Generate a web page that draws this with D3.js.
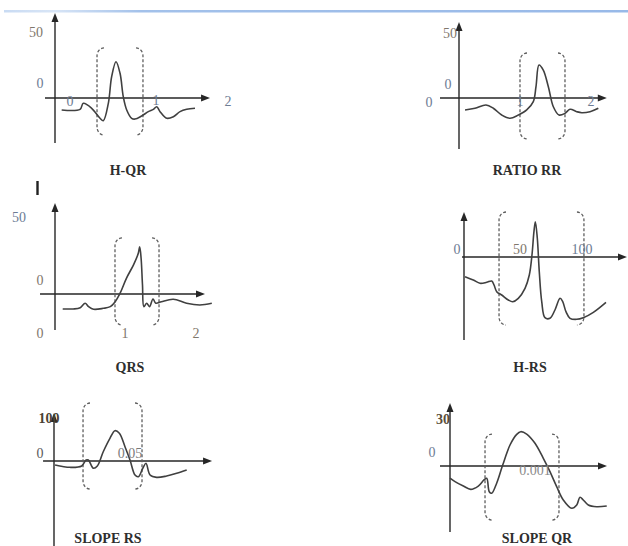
<!DOCTYPE html>
<html>
<head>
<meta charset="utf-8">
<script src="https://cdn.jsdelivr.net/npm/d3@7"></script>
<style>
  html, body { margin: 0; padding: 0; background: #fff; }
  svg { display: block; }
</style>
</head>
<body>
<svg id="fig" width="628" height="546"></svg>
<script>
// ---- Feature waveforms (time, amplitude) ----------------------------------

// H-QR: time in s, amplitude
const hqrT = [0.066, 0.248, 0.280, 0.363, 0.446, 0.478, 0.528, 0.561, 0.604, 0.644, 0.676, 0.710, 0.759, 0.792, 0.858, 0.924, 0.974, 1.007, 1.040, 1.106, 1.172, 1.238, 1.304, 1.386];
const hqrV = [-9.2, -8.7, -4.1, -7.9, -15.6, -17.5, -4.1, 16.4, 27.9, 19.0, 1.0, -9.2, -15.6, -16.2, -13.8, -10.5, -8.7, -6.7, -10.5, -15.6, -14.4, -10.5, -8.7, -7.9];
const hqrWindow = [0.416, 0.871];
const hqrWindowV = [38.5, -28.5];

// RATIO RR
const rrT = [0.094, 0.25, 0.422, 0.536, 0.667, 0.797, 0.927, 1.058, 1.161, 1.203, 1.25, 1.317, 1.396, 1.474, 1.563, 1.656, 1.734, 1.839, 1.917, 2.047, 2.177];
const rrV = [-9.2, -7.9, -5.4, -7.9, -13.1, -15.6, -13.1, -9.2, -2.8, 8.7, 25.4, 21.5, 8.7, -6.7, -13.1, -11.8, -8.7, -10.5, -11.3, -10.5, -7.9];
const rrWindow = [0.953, 1.656];
const rrWindowV = [34.6, -31.5];

// QRS
const qrsT = [0.11, 0.26, 0.36, 0.43, 0.48, 0.55, 0.69, 0.79, 0.86, 0.93, 1.02, 1.12, 1.19, 1.21, 1.23, 1.25, 1.27, 1.31, 1.35, 1.40, 1.44, 1.52, 1.69, 1.88, 2.07, 2.24];
const qrsV = [-9.7, -9.7, -8.9, -6.0, -8.2, -9.9, -9.3, -8.2, -5.0, 0.5, 10.2, 18.8, 26.4, 30.7, 23.2, 5.8, -8.2, -6.0, -8.2, -3.2, -6.0, -5.0, -3.4, -6.0, -7.1, -6.0];
const qrsWindow = [0.857, 1.486];
const qrsWindowV = [36.4, -20.1];

// H-RS
const hrsT = [0.9, 8.0, 13.8, 19.6, 23.9, 25.9, 28.2, 32.5, 38.2, 42.0, 46.8, 52.6, 56.3, 58.6, 60.3, 61.5, 63.2, 64.9, 67.0, 69.8, 74.1, 78.4, 82.8, 85.1, 87.9, 91.4, 97.2, 102.8, 111.5, 122.4];
const hrsV = [-19.7, -23, -26.3, -25.3, -24, -28, -34.7, -38, -43, -44.7, -41.3, -31.3, -18, 2, 25.3, 35.3, 18.7, -14.7, -44.7, -60.7, -61.3, -53, -41.3, -44.7, -54.7, -61.3, -62.3, -60.7, -55.3, -45.3];
const hrsWindow = [30.2, 103.4];
const hrsWindowV = [45, -68];

// SLOPE RS
const slopeRsT = [0.0007, 0.0105, 0.0182, 0.0211, 0.0226, 0.0259, 0.0285, 0.0324, 0.0368, 0.0401, 0.0430, 0.0467, 0.0500, 0.0533, 0.0555, 0.0584, 0.0605, 0.0632, 0.0675, 0.0741, 0.0807, 0.0873];
const slopeRsV = [-9.3, -14.7, -11.6, 2.3, 2.3, -16.9, -11.6, 21.6, 52.8, 70.5, 64.4, 33.3, 2.3, -32.6, -36.5, -16.9, -5.3, -32.6, -38.0, -34.9, -28.6, -20.9];
const slopeRsWindow = [0.0191, 0.0579];
const slopeRsWindowV = [134.9, -65.1];

// SLOPE QR: times listed in milliseconds
const slopeQrMs = [0, 0.059, 0.157, 0.244, 0.333, 0.4, 0.432, 0.462, 0.491, 0.549, 0.62, 0.706, 0.785, 0.832, 0.902, 1.0, 1.098, 1.176, 1.255, 1.333, 1.432, 1.491, 1.529, 1.568, 1.627, 1.726, 1.844];
const slopeQrV = [-7.8, -10.0, -12.8, -14.9, -12.8, -8.9, -7.8, -16.4, -17.4, -11.0, 0.6, 13.4, 20.2, 21.9, 20.4, 14.5, 4.9, -3.6, -13.2, -21.7, -27.0, -24.9, -20.0, -21.7, -24.9, -26.0, -25.5];
const slopeQrT = slopeQrMs.map(ms => ms / 1000);
const slopeQrWindow = [0.000412, 0.001282];
const slopeQrWindowV = [20.4, -34.5];

// ---- Tick labels -----------------------------------------------------------
const hqrTicks   = ["50", "0", "0", "1", "2"];
const rrTicks    = ["50", "0", "0", "1", "2"];
const qrsTicks   = ["50", "0", "0", "1", "2"];
const hrsTicks   = ["0", "50", "100"];
const slopeRsTicks = ["100", "0", "0.05"];
const slopeQrTicks = ["30", "0", "0.001"];

const titles = ["H-QR", "RATIO RR", "QRS", "H-RS", "SLOPE RS", "SLOPE QR"];

// ---- Panel layout ----------------------------------------------------------
// Each scale is fixed by two reference values and their pixel positions.
const panels = [
  {
    title: titles[0], t: hqrT, v: hqrV, win: hqrWindow, winV: hqrWindowV,
    xRef: [[0, 1], [55, 156]], yRef: [[0, 50], [98, 33]],
    xExt: [-0.099, 1.535], yExt: [-34.6, 65.4],
    titleAt: [128, 175],
    ticks: [
      { at: [0, 50], dx: -19, dy: 4 },
      { at: [0, 0], dx: -15, dy: -10 },
      { at: [0, 0], dx: 15, dy: 8 },
      { at: [1, 0], dx: 0, dy: 7 },
      { at: [2, 0], dx: -29, dy: 8 }
    ].map((p, i) => ({ ...p, text: hqrTicks[i] })),
    tickColors: ["#7f776c", "#6d7c94", "#6d7c94", "#6d7c94", "#6d7c94"]
  },
  {
    title: titles[1], t: rrT, v: rrV, win: rrWindow, winV: rrWindowV,
    xRef: [[0, 1], [459, 523]], yRef: [[0, 50], [98, 33]],
    xExt: [-0.297, 2.31], yExt: [-39.2, 58.5],
    titleAt: [527, 175],
    ticks: [
      { at: [0, 50], dx: -9, dy: 5 },
      { at: [0, 0], dx: -11, dy: -9 },
      { at: [0, 0], dx: -30, dy: 9 },
      { at: [1, 0], dx: -3, dy: 8 },
      { at: [2, 0], dx: 4, dy: 8 }
    ].map((p, i) => ({ ...p, text: rrTicks[i] })),
    tickColors: ["#7f776c", "#6d7c94", "#6d7c94", "#6d7c94", "#6d7c94"]
  },
  {
    title: titles[2], t: qrsT, v: qrsV, win: qrsWindow, winV: qrsWindowV,
    xRef: [[0, 1], [55, 125]], yRef: [[0, 50], [294, 217]],
    xExt: [-0.214, 2.143], yExt: [-23.4, 59.1],
    titleAt: [130, 372],
    ticks: [
      { at: [0, 50], dx: -36, dy: 5 },
      { at: [0, 0], dx: -15, dy: -9 },
      { at: [0, 0], dx: -15, dy: 44 },
      { at: [1, 0], dx: 0, dy: 44 },
      { at: [2, 0], dx: 1, dy: 44 }
    ].map((p, i) => ({ ...p, text: qrsTicks[i] })),
    tickColors: ["#6d7c94", "#7f776c", "#7f776c", "#7f776c", "#7f776c"]
  },
  {
    title: titles[3], t: hrsT, v: hrsV, win: hrsWindow, winV: hrsWindowV,
    xRef: [[0, 100], [464, 580]], yRef: [[0, 50], [257, 207]],
    xExt: [-1.7, 140.5], yExt: [-83, 45],
    titleAt: [530, 372],
    ticks: [
      { at: [0, 0], dx: -7, dy: -3 },
      { at: [50, 0], dx: -2, dy: -3 },
      { at: [100, 0], dx: 2, dy: -3 }
    ].map((p, i) => ({ ...p, text: hrsTicks[i] })),
    tickColors: ["#6d7c94", "#7f776c", "#6d7c94"]
  },
  {
    title: titles[4], t: slopeRsT, v: slopeRsV, win: slopeRsWindow, winV: slopeRsWindowV,
    xRef: [[0, 0.05], [54, 130]], yRef: [[0, 100], [461, 418]],
    xExt: [-0.0072, 0.104], yExt: [-200, 111.6],
    titleAt: [108, 543],
    ticks: [
      { at: [0, 100], dx: -5, dy: 5, bold: true },
      { at: [0, 0], dx: -14, dy: -3 },
      { at: [0.05, 0], dx: 0, dy: -3 }
    ].map((p, i) => ({ ...p, text: slopeRsTicks[i] })),
    tickColors: ["#4a4234", "#5a5a5a", "#7a7a7a"]
  },
  {
    title: titles[5], t: slopeQrT, v: slopeQrV, win: slopeQrWindow, winV: slopeQrWindowV,
    xRef: [[0, 0.001], [450, 535]], yRef: [[0, 30], [466, 419]],
    xExt: [-0.000118, 0.001847], yExt: [-42.1, 40.2],
    titleAt: [537, 543],
    ticks: [
      { at: [0, 30], dx: -7, dy: 5, bold: true },
      { at: [0, 0], dx: -18, dy: -9 },
      { at: [0.001, 0], dx: 0, dy: 9 }
    ].map((p, i) => ({ ...p, text: slopeQrTicks[i] })),
    tickColors: ["#5a4e3a", "#6d7c94", "#8a8a8a"]
  }
];

const svg = d3.select("#fig");
const defs = svg.append("defs");

// Header rule across the top of the page
const grad = defs.append("linearGradient").attr("id", "rule")
  .attr("x1", "0%").attr("x2", "100%");
grad.append("stop").attr("offset", "0%").attr("stop-color", "#c9dbf3");
grad.append("stop").attr("offset", "8%").attr("stop-color", "#d8e5f6");
grad.append("stop").attr("offset", "22%").attr("stop-color", "#a3c1ea");
grad.append("stop").attr("offset", "100%").attr("stop-color", "#98b9e8");
svg.append("rect").attr("x", 4).attr("y", 10).attr("width", 624).attr("height", 2.5)
  .attr("fill", "url(#rule)");

const serif = "'Liberation Serif', 'Times New Roman', serif";

panels.forEach(p => {
  const x = d3.scaleLinear().domain(p.xRef[0]).range(p.xRef[1]);
  const y = d3.scaleLinear().domain(p.yRef[0]).range(p.yRef[1]);
  const g = svg.append("g");

  // axes with arrow heads
  const axisColor = "#262626";
  const x0 = x(p.xExt[0]), x1 = x(p.xExt[1]), yAx = y(0);
  const xOrig = x(0), yTop = y(p.yExt[1]), yBot = y(p.yExt[0]);
  g.append("line").attr("x1", x0).attr("x2", x1 - 6).attr("y1", yAx).attr("y2", yAx)
    .attr("stroke", axisColor).attr("stroke-width", 1.4);
  g.append("path").attr("d", `M${x1},${yAx} L${x1 - 9},${yAx - 3.5} L${x1 - 9},${yAx + 3.5} Z`)
    .attr("fill", axisColor);
  g.append("line").attr("x1", xOrig).attr("x2", xOrig).attr("y1", yTop + 6).attr("y2", yBot)
    .attr("stroke", axisColor).attr("stroke-width", 1.4);
  g.append("path").attr("d", `M${xOrig},${yTop} L${xOrig - 3.5},${yTop + 9} L${xOrig + 3.5},${yTop + 9} Z`)
    .attr("fill", axisColor);

  // dashed bracket pair marking the feature window
  const wl = x(p.win[0]), wr = x(p.win[1]);
  const wt = y(p.winV[0]), wb = y(p.winV[1]);
  const rx = 7, ry = 8;
  const bracket = side => {
    const xe = side < 0 ? wl : wr;
    const xi = xe - side * rx;
    return `M${xi},${wt} A${rx},${ry} 0 0 ${side < 0 ? 0 : 1} ${xe},${wt + ry}` +
           ` L${xe},${wb - ry} A${rx},${ry} 0 0 ${side < 0 ? 0 : 1} ${xi},${wb}`;
  };
  [-1, 1].forEach(side => {
    g.append("path").attr("d", bracket(side))
      .attr("fill", "none").attr("stroke", "#5f5f5f").attr("stroke-width", 1.3)
      .attr("stroke-dasharray", "3,2");
  });

  // waveform
  const pts = p.t.map((t, i) => [t, p.v[i]]);
  const line = d3.line().x(d => x(d[0])).y(d => y(d[1]))
    .curve(d3.curveCatmullRom.alpha(0.5));
  g.append("path").attr("d", line(pts))
    .attr("fill", "none").attr("stroke", "#404040").attr("stroke-width", 1.6)
    .attr("stroke-linejoin", "round");

  // tick labels
  p.ticks.forEach((tk, i) => {
    g.append("text")
      .attr("x", x(tk.at[0]) + tk.dx).attr("y", y(tk.at[1]) + tk.dy)
      .attr("text-anchor", "middle")
      .attr("font-family", serif).attr("font-size", 14)
      .attr("font-weight", tk.bold ? "bold" : "normal")
      .attr("fill", p.tickColors[i])
      .text(tk.text);
  });

  // panel title
  g.append("text")
    .attr("x", p.titleAt[0]).attr("y", p.titleAt[1])
    .attr("text-anchor", "middle")
    .attr("font-family", serif).attr("font-size", 14).attr("font-weight", "bold")
    .attr("fill", "#2e2e2e")
    .text(p.title);
});

// stray cursor mark beneath the first panel
svg.append("line").attr("x1", 37.5).attr("x2", 37.5).attr("y1", 181).attr("y2", 195)
  .attr("stroke", "#222").attr("stroke-width", 2.4);
</script>
</body>
</html>
